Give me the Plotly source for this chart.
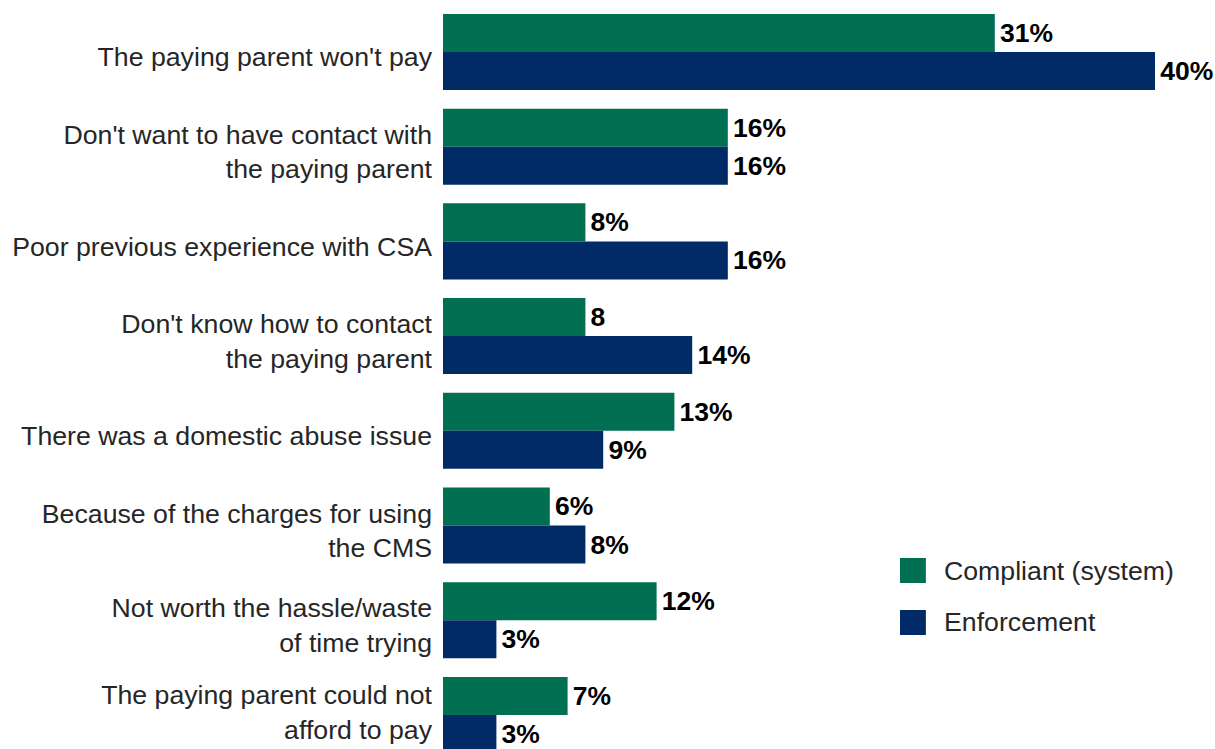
import plotly.graph_objects as go

categories = [
    "The paying parent won't pay",
    "Don't want to have contact with<br>the paying parent",
    "Poor previous experience with CSA",
    "Don't know how to contact<br>the paying parent",
    "There was a domestic abuse issue",
    "Because of the charges for using<br>the CMS",
    "Not worth the hassle/waste<br>of time trying",
    "The paying parent could not<br>afford to pay",
]
compliant = [31, 16, 8, 8, 13, 6, 12, 7]
compliant_labels = ["31%", "16%", "8%", "8", "13%", "6%", "12%", "7%"]
enforcement = [40, 16, 16, 14, 9, 8, 3, 3]
enforcement_labels = ["40%", "16%", "16%", "14%", "9%", "8%", "3%", "3%"]

GREEN = "#006F52"
NAVY = "#002B67"
FONT = "Liberation Sans, Arial, sans-serif"
LABEL_SIZE = 26.7
VALUE_SIZE = 26.5

positions = list(range(len(categories)))
# category labels sit slightly below the centre of each pair of bars;
# the bottom one is nudged up so it stays inside the page
label_positions = [p + 0.053 for p in positions]
label_positions[-1] = positions[-1] - 0.032

fig = go.Figure()
fig.add_trace(go.Bar(
    y=positions, x=compliant, orientation="h", name="Compliant (system)",
    marker=dict(color=GREEN, line=dict(width=0)),
    text=compliant_labels, texttemplate="\u200a%{text}",
    textposition="outside", cliponaxis=False,
    textfont=dict(family=FONT, size=VALUE_SIZE, color="#000000", weight="bold"),
    offsetgroup="a", showlegend=False,
))
fig.add_trace(go.Bar(
    y=positions, x=enforcement, orientation="h", name="Enforcement",
    marker=dict(color=NAVY, line=dict(width=0)),
    text=enforcement_labels, texttemplate="\u200a%{text}",
    textposition="outside", cliponaxis=False,
    textfont=dict(family=FONT, size=VALUE_SIZE, color="#000000", weight="bold"),
    offsetgroup="b", showlegend=False,
))

# Legend drawn as large swatches with labels
legend_items = [("Compliant (system)", GREEN), ("Enforcement", NAVY)]
x0, sw, sh = 0.592, 0.0335, 0.0334
for i, (label, color) in enumerate(legend_items):
    ytop = 0.255 - i * 0.0694
    fig.add_shape(type="rect", xref="paper", yref="paper",
                  x0=x0, x1=x0 + sw, y0=ytop - sh, y1=ytop,
                  fillcolor=color, line=dict(width=0))
    fig.add_annotation(xref="paper", yref="paper", x=0.647, y=ytop - sh / 2,
                       text=label, showarrow=False, xanchor="left", yanchor="middle",
                       font=dict(family=FONT, size=LABEL_SIZE, color="#262626"))

fig.update_layout(
    width=1215, height=749,
    margin=dict(l=443, r=0, t=0, b=0),
    paper_bgcolor="white", plot_bgcolor="white",
    barmode="group", bargap=0.197, bargroupgap=0,
    font=dict(family=FONT, size=LABEL_SIZE, color="#262626"),
    xaxis=dict(range=[0, 43.37], visible=False, showgrid=False, zeroline=False,
               automargin=False),
    yaxis=dict(
        range=[7.36, -0.549], tickmode="array", tickvals=label_positions, ticktext=categories,
        showgrid=False, zeroline=False, showline=False, ticks="",
        ticklabelstandoff=10, ticklabeloverflow="allow", automargin=False,
        tickfont=dict(family=FONT, size=LABEL_SIZE, color="#262626"),
    ),
)

fig.write_html("out.html")
